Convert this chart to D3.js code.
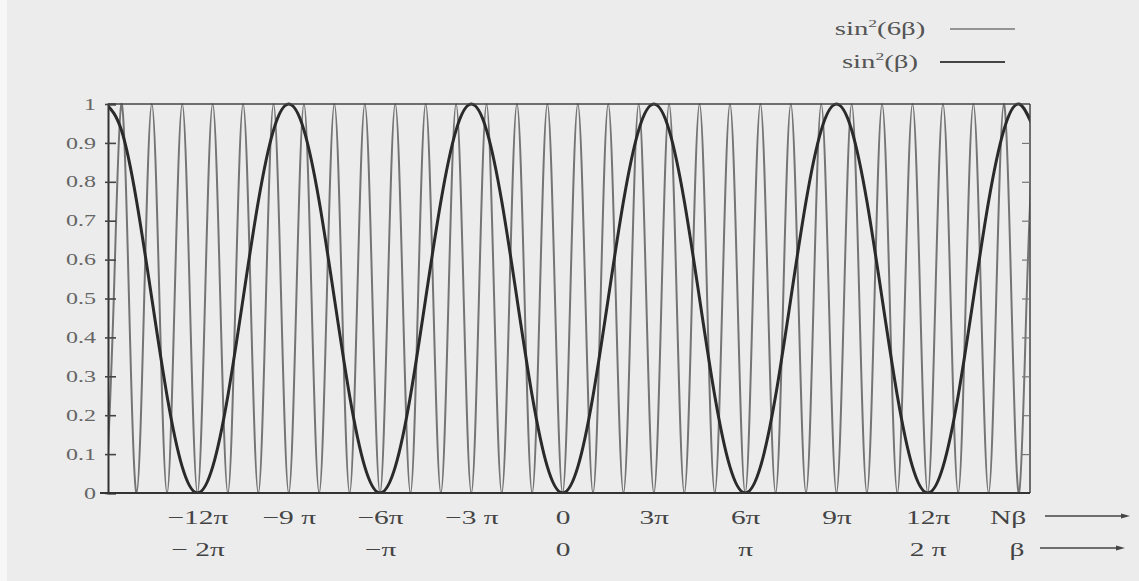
<!DOCTYPE html>
<html>
<head>
<meta charset="utf-8">
<script src="https://cdn.jsdelivr.net/npm/d3@7"></script>
<style>
  html, body { margin: 0; padding: 0; background: #ececec; }
  svg { display: block; }
</style>
</head>
<body>
<svg id="chart" width="1139" height="581"></svg>
<script>
// ---------- data (β in units of π) ----------
// sin²(6β) sampled every π/24 from β = -2.5π
const thinStart = -2.5, thinStep = 1 / 24;
const thinValues = [
  0,.5,1,.5, 0,.5,1,.5, 0,.5,1,.5, 0,.5,1,.5, 0,.5,1,.5, 0,.5,1,.5,
  0,.5,1,.5, 0,.5,1,.5, 0,.5,1,.5, 0,.5,1,.5, 0,.5,1,.5, 0,.5,1,.5,
  0,.5,1,.5, 0,.5,1,.5, 0,.5,1,.5, 0,.5,1,.5, 0,.5,1,.5, 0,.5,1,.5,
  0,.5,1,.5, 0,.5,1,.5, 0,.5,1,.5, 0,.5,1,.5, 0,.5,1,.5, 0,.5,1,.5,
  0,.5,1,.5, 0,.5,1,.5, 0,.5,1,.5, 0,.5,1,.5, 0,.5,1,.5, 0,.5,1,.5,
  0,.5,1
];
// sin²(β) sampled every π/12 from β = -2.5π
const thickStart = -2.5, thickStep = 1 / 12;
const thickValues = [
  1,.933,.75,.5,.25,.067, 0,.067,.25,.5,.75,.933,
  1,.933,.75,.5,.25,.067, 0,.067,.25,.5,.75,.933,
  1,.933,.75,.5,.25,.067, 0,.067,.25,.5,.75,.933,
  1,.933,.75,.5,.25,.067, 0,.067,.25,.5,.75,.933,
  1,.933,.75,.5,.25,.067, 0,.067,.25,.5,.75,.933,
  1,.933
];
const yTicks = [0, 0.1, 0.2, 0.3, 0.4, 0.5, 0.6, 0.7, 0.8, 0.9, 1];
const yTickLabels = ["0", "0.1", "0.2", "0.3", "0.4", "0.5", "0.6", "0.7", "0.8", "0.9", "1"];
const nBetaTicks = [-2, -1.5, -1, -0.5, 0, 0.5, 1, 1.5, 2];
const nBetaLabels = ["\u221212\u03c0", "\u22129 \u03c0", "\u22126\u03c0", "\u22123 \u03c0", "0", "3\u03c0", "6\u03c0", "9\u03c0", "12\u03c0"];
const betaTicks = [-2, -1, 0, 1, 2];
const betaLabels = ["\u2212 2\u03c0", "\u2212\u03c0", "0", "\u03c0", "2 \u03c0"];
const legendItems = [
  { base: "sin", sup: "2", rest: "(6\u03b2)", key: "thin" },
  { base: "sin", sup: "2", rest: "(\u03b2)", key: "thick" }
];

// ---------- layout ----------
const svg = d3.select("#chart");
const pLeft = 108, pRight = 1030, pTop = 104, pBottom = 493;
const x = d3.scaleLinear().domain([-2.49, 2.56]).range([pLeft, pRight]);
const y = d3.scaleLinear().domain([0, 1]).range([pBottom, pTop]);
const serif = "'Liberation Serif', 'DejaVu Serif', serif";
const stretch = 1.55;

svg.append("rect").attr("x", 0).attr("y", 0).attr("width", 7).attr("height", 581).attr("fill", "#f7f7f7");

svg.append("defs").append("clipPath").attr("id", "clip")
  .append("rect").attr("x", pLeft).attr("y", pTop - 4).attr("width", pRight - pLeft).attr("height", pBottom - pTop + 4);

const thinData = thinValues.map((v, i) => [thinStart + i * thinStep, v]);
const thickData = thickValues.map((v, i) => [thickStart + i * thickStep, v]);

const line = d3.line().x(d => x(d[0])).y(d => y(d[1])).curve(d3.curveNatural);

const plot = svg.append("g").attr("clip-path", "url(#clip)");
plot.append("path").datum(thinData).attr("d", line)
  .attr("fill", "none").attr("stroke", "#747474").attr("stroke-width", 2);
plot.append("path").datum(thickData).attr("d", line)
  .attr("fill", "none").attr("stroke", "#2a2a2a").attr("stroke-width", 3);

// frame
const frame = svg.append("g").attr("stroke", "#444").attr("fill", "none");
frame.append("line").attr("x1", pLeft).attr("x2", pRight).attr("y1", pTop).attr("y2", pTop).attr("stroke-width", 1.5);
frame.append("line").attr("x1", pRight).attr("x2", pRight).attr("y1", pTop).attr("y2", pBottom).attr("stroke-width", 1.5);

// left axis
const yAxis = d3.axisLeft(y).tickValues(yTicks)
  .tickFormat((d, i) => yTickLabels[i]).tickSize(-8).tickPadding(8);
const gy = svg.append("g").attr("transform", `translate(${pLeft},0)`).call(yAxis);
gy.select(".domain").attr("stroke", "#333").attr("stroke-width", 2);
gy.selectAll(".tick line").attr("stroke", "#444").attr("stroke-width", 1.6)
  .attr("x1", -3);
gy.selectAll("text").attr("font-family", serif).attr("font-size", 16).attr("fill", "#666")
  .attr("transform", "scale(1.5,1)");

// right axis ticks
const yAxisR = d3.axisRight(y).tickValues(yTicks.slice(1, -1)).tickFormat("").tickSize(-8);
const gyr = svg.append("g").attr("transform", `translate(${pRight},0)`).call(yAxisR);
gyr.select(".domain").remove();
gyr.selectAll(".tick line").attr("stroke", "#777").attr("stroke-width", 1.2);

// bottom axis (Nβ row)
const xAxis1 = d3.axisBottom(x).tickValues(nBetaTicks)
  .tickFormat((d, i) => nBetaLabels[i]).tickSize(0).tickPadding(18);
const gx1 = svg.append("g").attr("transform", `translate(0,${pBottom})`).call(xAxis1);
gx1.select(".domain").attr("d", `M${pLeft - 8},0H${pRight}`).attr("stroke", "#333").attr("stroke-width", 2);
gx1.selectAll("text").attr("font-family", serif).attr("font-size", 19).attr("fill", "#444")
  .attr("transform", `scale(${stretch},1)`);

// bottom axis (β row)
const xAxis2 = d3.axisBottom(x).tickValues(betaTicks)
  .tickFormat((d, i) => betaLabels[i]).tickSize(0).tickPadding(50);
const gx2 = svg.append("g").attr("transform", `translate(0,${pBottom})`).call(xAxis2);
gx2.select(".domain").remove();
gx2.selectAll("text").attr("font-family", serif).attr("font-size", 19).attr("fill", "#444")
  .attr("transform", `scale(${stretch},1)`);

// axis names with arrows
const names = [
  { t: "N\u03b2", x: 1008, y: 524, x1: 1045, x2: 1130, ly: 516 },
  { t: "\u03b2", x: 1017, y: 556, x1: 1040, x2: 1125, ly: 548 }
];
names.forEach(n => {
  svg.append("text").attr("transform", `translate(${n.x},${n.y}) scale(${stretch},1)`)
    .attr("text-anchor", "middle")
    .attr("font-family", serif).attr("font-size", 19).attr("fill", "#444").text(n.t);
  svg.append("line").attr("x1", n.x1).attr("x2", n.x2 - 4).attr("y1", n.ly).attr("y2", n.ly)
    .attr("stroke", "#444").attr("stroke-width", 1.5);
  svg.append("path").attr("d", `M${n.x2},${n.ly} L${n.x2 - 9},${n.ly - 2.5} L${n.x2 - 9},${n.ly + 2.5} Z`)
    .attr("fill", "#444");
});

// legend
const legY = [29, 62];
const legTextX = [880, 880];
const legLine = [[950, 1015], [940, 1005]];
legendItems.forEach((it, i) => {
  const t = svg.append("text").attr("transform", `translate(${legTextX[i]},${legY[i] + 6}) scale(1.6,1)`)
    .attr("text-anchor", "middle").attr("font-family", serif).attr("font-size", 18).attr("fill", "#555");
  t.append("tspan").text(it.base);
  t.append("tspan").attr("font-size", 11).attr("dy", -8).text(it.sup);
  t.append("tspan").attr("dy", 8).text(it.rest);
  svg.append("line").attr("x1", legLine[i][0]).attr("x2", legLine[i][1])
    .attr("y1", legY[i]).attr("y2", legY[i])
    .attr("stroke", it.key === "thin" ? "#777" : "#444")
    .attr("stroke-width", it.key === "thin" ? 1.4 : 2.2);
});
</script>
</body>
</html>
